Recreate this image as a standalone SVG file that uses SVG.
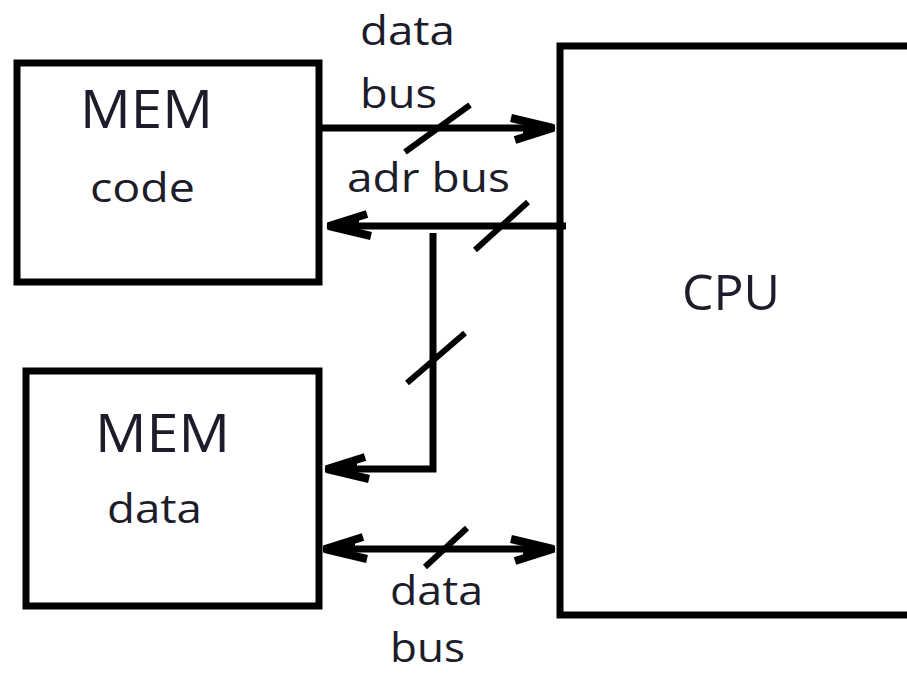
<svg xmlns="http://www.w3.org/2000/svg" width="907" height="676" viewBox="0 0 907 676">
<style>
.box{fill:#fff;stroke:#000;stroke-width:7}
.wire{fill:none;stroke:#000;stroke-width:7}
.slash{stroke:#000;stroke-width:6;stroke-linecap:butt}
text{font-family:"Open Sans","Liberation Sans",sans-serif;fill:#1c1c2a}
.big{font-size:53px}
.lbl{font-size:40px}
</style>
<defs>
<marker id="arr" viewBox="-50 -16 54 32" markerWidth="54" markerHeight="32" refX="0" refY="0" markerUnits="userSpaceOnUse" orient="auto-start-reverse">
<path d="M-2,0 L-44,-10 M-2,0 L-40,12" stroke="#000" stroke-width="8" fill="none"/>
<polygon points="1,0 -32,-9 -32,9" fill="#000"/>
</marker>
</defs>
<rect width="907" height="676" fill="#fff"/>
<g id="mem-code">
<rect class="box" x="17" y="63" width="302" height="219"/>
<text class="big" x="80" y="128" textLength="133" lengthAdjust="spacingAndGlyphs">MEM</text>
<text class="lbl" x="90" y="202" textLength="105" lengthAdjust="spacingAndGlyphs">code</text>
</g>
<g id="mem-data">
<rect class="box" x="26" y="371" width="293" height="235"/>
<text class="big" x="95" y="452" textLength="135" lengthAdjust="spacingAndGlyphs">MEM</text>
<text class="lbl" x="107" y="523" textLength="95" lengthAdjust="spacingAndGlyphs">data</text>
</g>
<g id="cpu">
<rect class="box" x="560" y="46" width="400" height="569"/>
<text x="682" y="310" style="font-size:49px" textLength="98" lengthAdjust="spacingAndGlyphs">CPU</text>
</g>
<g id="connectors">
<path class="wire" d="M319,128 H555" marker-end="url(#arr)"/>
<path class="wire" d="M566,226 H327" marker-end="url(#arr)"/>
<path class="wire" d="M433,233 V469 H325" marker-end="url(#arr)"/>
<path class="wire" d="M323,549 H555" marker-start="url(#arr)" marker-end="url(#arr)"/>
<line class="slash" x1="405" y1="152" x2="470" y2="105"/>
<line class="slash" x1="475" y1="250" x2="528" y2="202"/>
<line class="slash" x1="407" y1="383" x2="465" y2="333"/>
<line class="slash" x1="425" y1="567" x2="467" y2="528"/>
</g>
<g id="labels">
<text class="lbl" x="360" y="45" textLength="95" lengthAdjust="spacingAndGlyphs">data</text>
<text class="lbl" x="360" y="108" textLength="77" lengthAdjust="spacingAndGlyphs">bus</text>
<text class="lbl" x="347" y="192" textLength="163" lengthAdjust="spacingAndGlyphs">adr bus</text>
<text class="lbl" x="390" y="605" textLength="93" lengthAdjust="spacingAndGlyphs">data</text>
<text class="lbl" x="390" y="662" textLength="75" lengthAdjust="spacingAndGlyphs">bus</text>
</g>
</svg>
